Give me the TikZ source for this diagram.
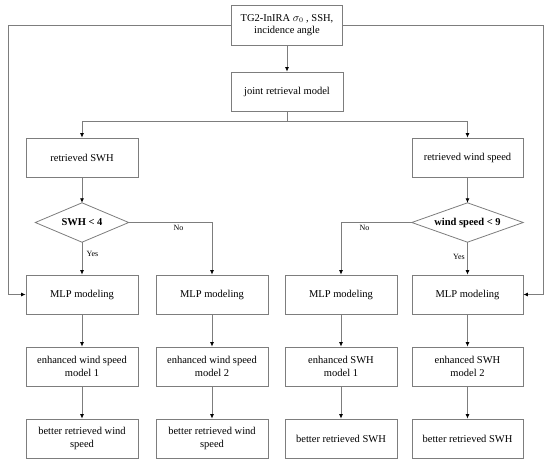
\documentclass[tikz,border=0pt]{standalone}
\usepackage{fontspec}
\setmainfont{Liberation Serif}
\usetikzlibrary{arrows.meta}
\definecolor{ln}{RGB}{125,125,125}
\begin{document}
\begin{tikzpicture}[x=1pt,y=-1pt,
  box/.style={draw=ln, line width=0.8pt, minimum height=39pt, inner sep=1pt, align=center, font=\fontsize{10.5}{12.5}\selectfont},
  dtext/.style={draw=none, inner sep=0pt, font=\fontsize{10.5}{12.5}\selectfont\bfseries},
  arr/.style={draw=ln, line width=0.8pt, -{Latex[length=4.5pt,width=4pt,color=black]}},
  ln/.style={draw=ln, line width=0.8pt},
  lab/.style={font=\fontsize{8}{9}\selectfont, inner sep=0pt}]
\useasboundingbox (0,0) rectangle (550,464);
% nodes
\node[box, minimum width=111pt, minimum height=40pt] (top) at (287,25) {TG2-InIRA $\sigma_0$ , SSH,\\incidence angle};
\node[box, minimum width=112pt] (joint) at (287,91.5) {joint retrieval model};
\node[box, minimum width=112pt] (rswh) at (82,157.5) {retrieved SWH};
\node[box, minimum width=111pt] (rws) at (467.5,157.5) {retrieved wind speed};
\node[dtext, minimum width=93pt, minimum height=39pt] (d1) at (82,222.5) {SWH < 4};
\node[dtext, minimum width=111pt, minimum height=39pt] (d2) at (467.5,222.5) {wind speed < 9};
\draw[ln] (d1.north) -- (d1.east) -- (d1.south) -- (d1.west) -- cycle;
\draw[ln] (d2.north) -- (d2.east) -- (d2.south) -- (d2.west) -- cycle;
\node[box, minimum width=112pt] (m1) at (82,294.5) {MLP modeling};
\node[box, minimum width=112pt] (m2) at (212,294.5) {MLP modeling};
\node[box, minimum width=112pt] (m3) at (341,294.5) {MLP modeling};
\node[box, minimum width=111pt] (m4) at (467.5,294.5) {MLP modeling};
\node[box, minimum width=112pt] (e1) at (82,366.5) {enhanced wind speed\\model 1};
\node[box, minimum width=112pt] (e2) at (212,366.5) {enhanced wind speed\\model 2};
\node[box, minimum width=112pt] (e3) at (341,366.5) {enhanced SWH\\model 1};
\node[box, minimum width=111pt] (e4) at (467.5,366.5) {enhanced SWH\\model 2};
\node[box, minimum width=112pt] (b1) at (82,438.5) {better retrieved wind\\speed};
\node[box, minimum width=112pt] (b2) at (212,438.5) {better retrieved wind\\speed};
\node[box, minimum width=112pt] (b3) at (341,438.5) {better retrieved SWH};
\node[box, minimum width=111pt] (b4) at (467.5,438.5) {better retrieved SWH};
% coordinates
\coordinate (split) at (287,121);
\coordinate (lc) at (8,25);
\coordinate (rc) at (543,25);
% connectors
\draw[arr] (top) -- (joint);
\draw[ln] (joint.south) -- (split);
\draw[arr] (split) -| (rswh.north);
\draw[arr] (split) -| (rws.north);
\draw[arr] (rswh) -- (d1.north);
\draw[arr] (rws) -- (d2.north);
\draw[arr] (d1.south) -- (m1.north);
\draw[arr] (d1.east) -| (m2.north);
\draw[arr] (d2.south) -- (m4.north);
\draw[arr] (d2.west) -| (m3.north);
\draw[arr] (top.west) -- (lc) |- (m1.west);
\draw[arr] (top.east) -- (rc) |- (m4.east);
\foreach \i in {1,2,3,4} {
  \draw[arr] (m\i) -- (e\i);
  \draw[arr] (e\i) -- (b\i);
}
% labels
\node[lab] (y1) at (92.5,254) {Yes};
\node[lab] (n1) at (178.5,228) {No};
\node[lab] (y2) at (459,257) {Yes};
\node[lab] (n2) at (364.5,228) {No};
\end{tikzpicture}
\end{document}
